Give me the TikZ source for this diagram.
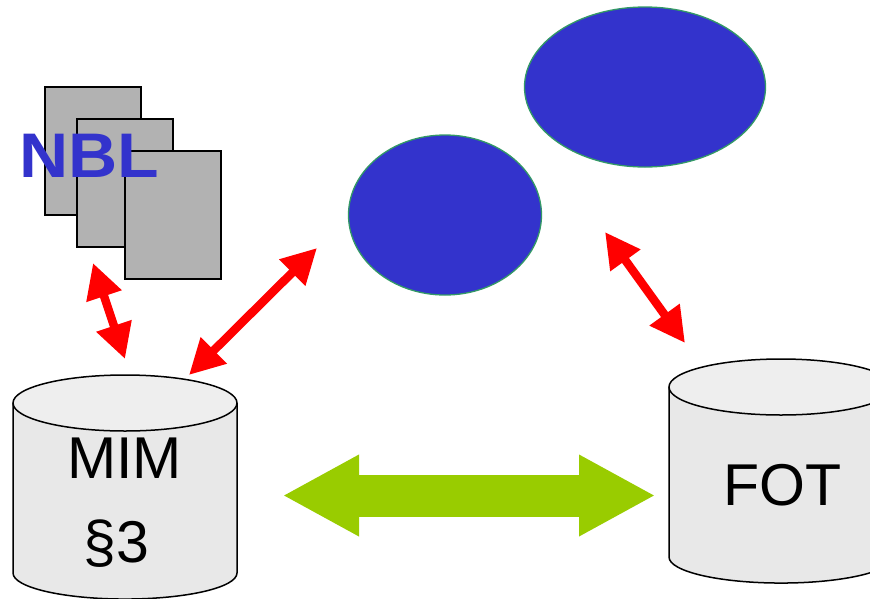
\documentclass[tikz,border=0pt]{standalone}
\usepackage{fontspec}
\setmainfont{Liberation Sans}
\usetikzlibrary{shapes.geometric,arrows.meta}

\definecolor{sheetgray}{HTML}{B2B2B2}
\definecolor{blobblue}{HTML}{3333CC}
\definecolor{blobedge}{HTML}{339966}
\definecolor{linkgreen}{HTML}{99CC00}
\definecolor{drumbody}{HTML}{E8E8E8}
\definecolor{drumtop}{HTML}{EEEEEE}

\tikzset{
  sheet/.style={draw=black, line width=1.5pt, fill=sheetgray, minimum width=96pt, minimum height=128pt, inner sep=0pt},
  blob/.style={ellipse, draw=blobedge, line width=1.3pt, fill=blobblue, inner sep=0pt},
  drumline/.style={draw=black, line width=1.5pt, line join=round},
  drumlabel/.style={anchor=base, inner sep=0pt, font=\fontsize{59}{59}\selectfont},
  redlink/.style={draw=red, line width=8.5pt, {Triangle[length=35pt,width=35pt]}-{Triangle[length=35pt,width=35pt]}},
  greenlink/.style={draw=linkgreen, line width=42pt, {Triangle[length=76.5pt,width=76pt]}-{Triangle[length=76.5pt,width=76pt]}},
}

\begin{document}
\begin{tikzpicture}[x=1pt,y=-1pt]

% Page size of the reference
\useasboundingbox (0,0) rectangle (870,598);

\def\drumR{112}    % half width of a drum
\def\drumE{28}     % half height of its top ellipse
\def\drumH{170}    % length of its straight sides

% -----------------------------
% Stack of sheets
% -----------------------------
\node[sheet] (sheetA) at (93,151) {};
\node[sheet] (sheetB) at (125,183) {};
\node[sheet] (sheetC) at (173,215) {};
\node[anchor=base, inner sep=0pt, text=blobblue, font=\fontsize{63}{63}\selectfont\bfseries] (nbl) at (89.5,177) {\scalebox{1.08}[1]{NBL}};

% -----------------------------
% Ellipses
% -----------------------------
\node[blob, minimum width=193pt, minimum height=160pt] (blobA) at (445,215) {};
\node[blob, minimum width=241pt, minimum height=160pt] (blobB) at (645,87) {};

% -----------------------------
% Drums (centre of the top ellipse)
% -----------------------------
\foreach \cx/\cy in {125/403,781/387} {%
  \path[drumline, fill=drumbody] (\cx-\drumR,\cy) -- (\cx-\drumR,\cy+\drumH)
    arc[start angle=180, end angle=0, x radius=\drumR, y radius=\drumE*0.93]
    -- (\cx+\drumR,\cy) -- cycle;
  \path[drumline, fill=drumtop] (\cx,\cy) ellipse[x radius=\drumR, y radius=\drumE];
}

\node[drumlabel] (mimtext) at (124.7,478) {MIM};
\node[drumlabel] (partext) at (116.5,562) {§3};
\node[drumlabel] (fottext) at (782.7,505) {FOT};

% -----------------------------
% Free ends of the arrows
% -----------------------------
\coordinate (sheetend) at (93,263);
\coordinate (mimtop) at (125,359);
\coordinate (blobAend) at (317,248);
\coordinate (mimright) at (189,375);
\coordinate (blobBend) at (605,232);
\coordinate (fottop) at (685,343);
\coordinate (mimside) at (282.5,495.5);
\coordinate (fotside) at (655.5,495.5);

% Arrows
\draw[redlink] (sheetend) -- (mimtop);
\draw[redlink] (blobAend) -- (mimright);
\draw[redlink] (blobBend) -- (fottop);
\draw[greenlink] (mimside) -- (fotside);

\end{tikzpicture}
\end{document}
